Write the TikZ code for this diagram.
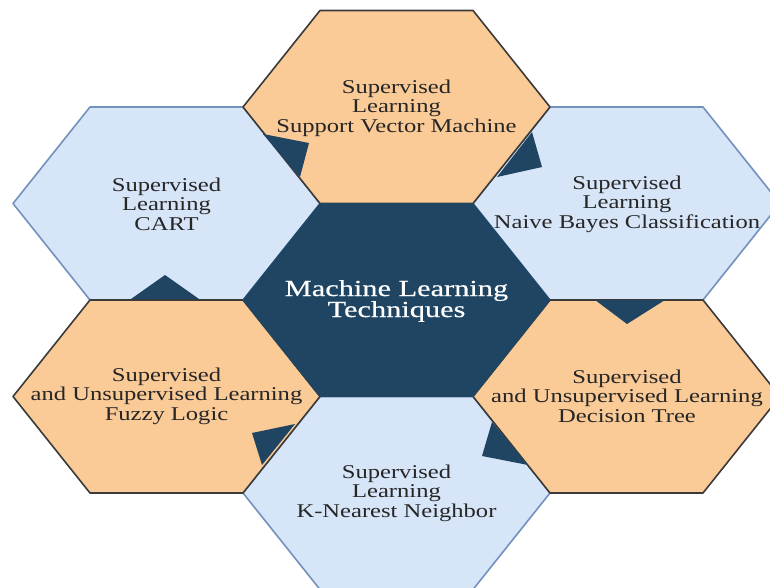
\documentclass[tikz,border=0pt]{standalone}
\usepackage{fontspec}
\setmainfont{Liberation Serif}[FakeStretch=1.26]
\newfontfamily\corefont{Liberation Serif}[FakeStretch=1.32,FakeBold=0.4]
\definecolor{peach}{HTML}{FACA97}
\definecolor{paleblue}{HTML}{D7E5F8}
\definecolor{navy}{HTML}{1F4562}
\definecolor{blueline}{HTML}{7391BE}
\definecolor{darkline}{HTML}{3A3A3A}
\definecolor{txt}{HTML}{262626}
\tikzset{
  hex/.pic={\path[pic actions] (-153.5,0) -- (-76.5,-96.5) -- (76.5,-96.5) -- (153.5,0) -- (76.5,96.5) -- (-76.5,96.5) -- cycle;},
  bluehex/.style={fill=paleblue, draw=blueline, line width=1.6pt, line join=round},
  peachhex/.style={fill=peach, draw=darkline, line width=1.6pt, line join=round},
  corehex/.style={fill=navy, draw=navy, line width=1pt},
  tab/.style={fill=navy, draw=none},
  lbl/.style={align=center, text=txt, inner sep=0pt, font=\fontsize{19.5}{19.5}\selectfont},
  corelbl/.style={align=center, text=white, inner sep=0pt, font=\corefont\fontsize{23}{21}\selectfont}
}
\begin{document}
\begin{tikzpicture}[x=1pt,y=-1pt]
\useasboundingbox (0,0) rectangle (770,588);
\clip (0,0) rectangle (770,588);
\fill[white] (0,0) rectangle (770,588);
% blue hexagons
\pic[bluehex] at (166.5,203.5) {hex};
\pic[bluehex] at (626.5,203.5) {hex};
\pic[bluehex] at (396.5,493) {hex};
% peach hexagons
\pic[peachhex] at (396.5,107) {hex};
\pic[peachhex] at (166.5,396.5) {hex};
\pic[peachhex] at (626.5,396.5) {hex};
% centre
\pic[corehex] at (396.5,300) {hex};
% tabs
\path[tab] (263,134) -- (309,143) -- (300,177) -- cycle;
\path[tab] (532,132) -- (542,167) -- (497,177) -- cycle;
\path[tab] (595,300) -- (665,300) -- (627,324) -- cycle;
\path[tab] (131,299) -- (199,299) -- (165,275) -- cycle;
\path[tab] (252,433) -- (295,424) -- (262,465) -- cycle;
\path[tab] (492,422) -- (482,456) -- (528,465) -- cycle;
% labels
\node[corelbl] (core) at (396.5,301) {Machine Learning\\Techniques};
\node[lbl] (svm) at (396.5,108) {Supervised\\Learning\\Support Vector Machine};
\node[lbl] (cart) at (166.5,204) {Supervised\\Learning\\CART};
\node[lbl] (nb) at (627,204) {Supervised\\Learning\\Naive Bayes Classification};
\node[lbl] (fuzzy) at (166.5,396) {Supervised\\and Unsupervised Learning\\Fuzzy Logic};
\node[lbl] (dt) at (627,396) {Supervised\\and Unsupervised Learning\\Decision Tree};
\node[lbl] (knn) at (396.5,493) {Supervised\\Learning\\K-Nearest Neighbor};
\end{tikzpicture}
\end{document}
